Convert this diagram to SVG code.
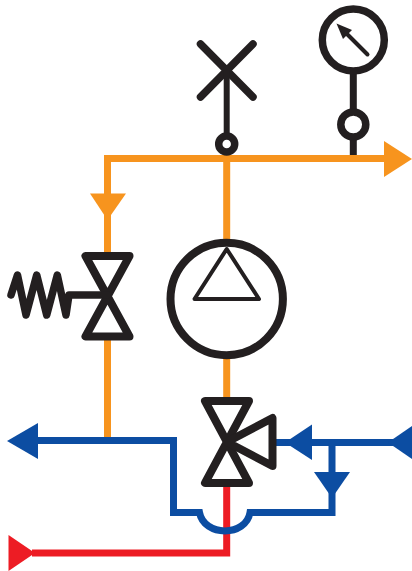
<svg xmlns="http://www.w3.org/2000/svg" width="412" height="571" viewBox="0 0 412 571">
<style>
.o{fill:none;stroke:#f7941e;stroke-width:7}
.b{fill:none;stroke:#0c4da2;stroke-width:7}
.r{fill:none;stroke:#ed1c24;stroke-width:7}
.k{fill:none;stroke:#231f20;stroke-width:8;stroke-linejoin:round;stroke-linecap:round}
.kc{fill:#fff;stroke:#231f20;stroke-width:7.500}
.fo{fill:#f7941e}.fb{fill:#0c4da2}.fr{fill:#ed1c24}.fk{fill:#231f20}
</style>
<rect width="412" height="571" fill="#fff"/>
<g id="connectors">
<path class="o" d="M107.500 255V158.500H390"/>
<path class="o" d="M107.500 338V440"/>
<path class="o" d="M226.700 158.500V400"/>
<polygon class="fo" points="384,141 412,159 384,177"/>
<polygon class="fo" points="90,193.500 126,193.500 107.500,220"/>
<path class="r" d="M226.700 485V553H32"/>
<polygon class="fr" points="8.500,535 35,553 8.500,571"/>
<path class="b" d="M30 440.500H173.500V512.500H199.500C204 537 246 537 250 512.500H332V442.500"/>
<path class="b" d="M272 442.500H400"/>
<polygon class="fb" points="7,441 38,423 38,459"/>
<polygon class="fb" points="285,442.500 312,424.500 312,460"/>
<polygon class="fb" points="388,442.500 412,426 412,459"/>
<polygon class="fb" points="314,472 350,472 332,498"/>
</g>
<g id="gauge">
<path class="k" d="M353.300 74V155" style="stroke-linecap:butt;stroke-width:7"/>
<circle class="kc" cx="353.300" cy="40" r="31"/>
<circle class="kc" cx="353.300" cy="124.500" r="12.500"/>
<path class="k" d="M367.500 54.500L344 31" style="stroke-width:4"/>
<polygon class="fk" points="336.500,23.500 352,30 343,39"/>
</g>
<g id="vent">
<path class="k" d="M200.500 44L253 97M253 44L200.500 97" style="stroke-width:7.500"/>
<path class="k" d="M226.700 70V135" style="stroke-linecap:butt;stroke-width:6"/>
<circle class="kc" cx="226.700" cy="144" r="8"/>
</g>
<g id="pump">
<circle cx="226.700" cy="299" r="56.200" fill="#fff" stroke="#231f20" stroke-width="8"/>
<path class="k" d="M226.700 249L259 299H194.500Z" style="stroke-width:4"/>
</g>
<g id="spring-valve">
<path class="k" d="M85.500 256H129.500L85.500 336.500H129.500Z"/>
<path class="k" d="M11 295L17.500 275L26 315L36.700 275L46.700 315L57.300 275L66 315L69 295H107" style="stroke-width:7.500"/>
</g>
<g id="mixing-valve">
<path class="k" d="M205 401H249L205 483H249Z"/>
<path class="k" d="M227 442L272.500 418V466Z"/>
</g>
</svg>
